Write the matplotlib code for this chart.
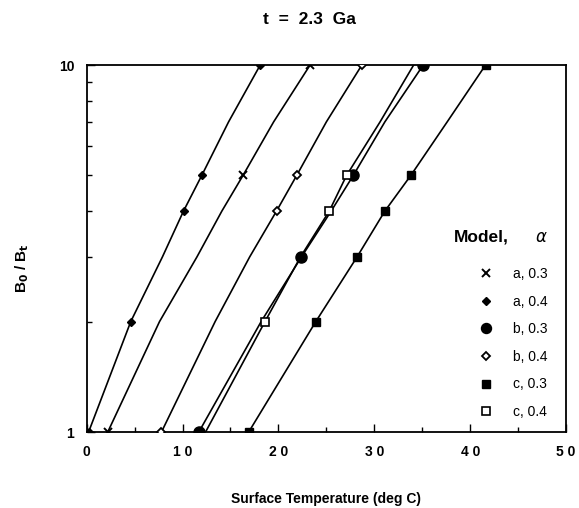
import numpy as np
import matplotlib
matplotlib.use("Agg")
import matplotlib.pyplot as plt
import matplotlib.ticker as mticker
from matplotlib.lines import Line2D

plt.rcParams["font.family"] = ["Liberation Sans", "DejaVu Sans"]

ratio = [1, 2, 3, 4, 5, 7, 10]

# surface temperature (deg C) for each model / alpha
t_a03 = [2.2, 7.6, 11.5, 14.1, 16.3, 19.5, 23.3]
t_a04 = [0.2, 4.6, 7.9, 10.1, 12.0, 14.8, 18.1]
t_b03 = [11.7, 18.2, 22.4, 25.5, 27.8, 31.1, 35.1]
t_b04 = [7.8, 13.4, 17.0, 19.8, 21.9, 25.0, 28.7]
t_c03 = [16.9, 23.9, 28.2, 31.1, 33.8, 37.6, 41.6]
t_c04 = [12.4, 18.6, 22.3, 25.3, 27.1, 30.6, 34.1]

# levels carrying a symbol
mk_a03 = [1, 5, 10]
mk_a04 = [1, 2, 4, 5, 10]
mk_b03 = [1, 3, 5, 10]
mk_b04 = [1, 4, 5, 10]
mk_c03 = [1, 2, 3, 4, 5, 10]
mk_c04 = [2, 4, 5]

labels = ["a, 0.3", "a, 0.4", "b, 0.3", "b, 0.4", "c, 0.3", "c, 0.4"]
series = [t_a03, t_a04, t_b03, t_b04, t_c03, t_c04]
marks = [mk_a03, mk_a04, mk_b03, mk_b04, mk_c03, mk_c04]
styles = [
    dict(marker="x", ms=6, mfc="k", mew=1.4),
    dict(marker="D", ms=4, mfc="k", mew=1.0),
    dict(marker="o", ms=8, mfc="k", mew=1.0),
    dict(marker="D", ms=4.5, mfc="white", mew=1.3),
    dict(marker="s", ms=6, mfc="k", mew=1.0),
    dict(marker="s", ms=6, mfc="white", mew=1.2),
]

fig = plt.figure(figsize=(5.79, 5.08), dpi=100)
ax = fig.add_axes([0.1497, 0.1496, 0.828, 0.7224])

for temps, mk, st in zip(series, marks, styles):
    ax.plot(temps, ratio, color="k", lw=1.2, zorder=2)
    mx = [temps[ratio.index(r)] for r in mk]
    ax.plot(mx, mk, ls="none", color="k", mec="k", zorder=3, **st)

ax.set_yscale("log")
ax.set_xlim(0, 50)
ax.set_ylim(1, 10)
ax.set_xticks([0, 10, 20, 30, 40, 50])
ax.set_xticklabels(["0", "1 0", "2 0", "3 0", "4 0", "5 0"])
ax.xaxis.set_minor_locator(mticker.MultipleLocator(5))
ax.set_yticks([1, 10])
ax.set_yticklabels(["1", "10"])
ax.yaxis.set_minor_formatter(mticker.NullFormatter())
ax.tick_params(which="both", direction="in", top=False, right=False,
               labelsize=10, width=1.0)
ax.tick_params(which="major", length=6, pad=9)
ax.tick_params(which="minor", length=3.5)
for lab in ax.get_xticklabels() + ax.get_yticklabels():
    lab.set_fontweight("bold")
for sp in ax.spines.values():
    sp.set_linewidth(1.3)

ax.set_xlabel("Surface Temperature (deg C)", fontsize=10, fontweight="bold",
              labelpad=24)
ax.set_ylabel(r"B$_\mathbf{0}$ / B$_\mathbf{t}$", fontsize=11,
              fontweight="bold")
ax.yaxis.set_label_coords(-0.116, 0.447)
fig.text(0.535, 0.961, "t  =  2.3  Ga", ha="center", va="center",
         fontsize=12.5, fontweight="bold")

handles = [Line2D([], [], ls="none", color="k", mec="k", **st) for st in styles]
for h in handles:
    h.set_markersize(h.get_markersize() * 0.9)
ax.legend(handles, labels, loc="center left",
          bbox_to_anchor=(0.793, 0.2425), frameon=False, fontsize=10,
          labelspacing=0.98, handletextpad=1.4, handlelength=1.0)
ax.text(0.765, 0.531, "Model,", transform=ax.transAxes, ha="left",
        va="center", fontsize=12.5, fontweight="bold")
ax.text(0.948, 0.531, r"$\alpha$", transform=ax.transAxes, ha="center",
        va="center", fontsize=12)

fig.savefig("out.png", dpi=100)
